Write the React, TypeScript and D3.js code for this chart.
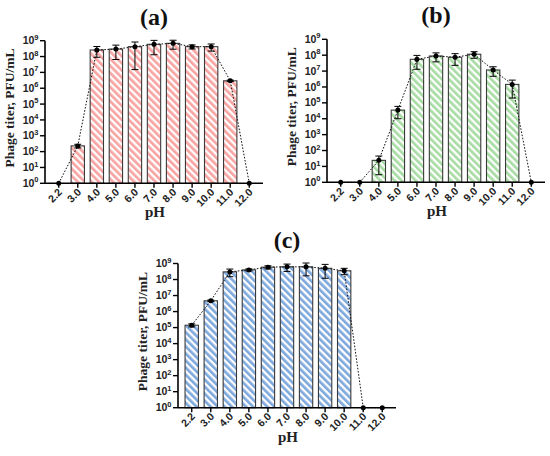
import React, { useEffect, useRef } from 'react';
import * as d3 from 'd3';

// pH values tested (x categories)
const phLabels = ['2.2', '3.0', '4.0', '5.0', '6.0', '7.0', '8.0', '9.0', '10.0', '11.0', '12.0'];

// mean phage titers (PFU/mL), 0 = not detected
const titerA = [0, 2.3e2, 2.6e8, 2.95e8, 4.2e8, 5.9e8, 6.8e8, 4.2e8, 4.2e8, 2.95e6, 0];
const sdA = [0, 60, 1.7e8, 2.3e8, 4.05e8, 4.6e8, 3.9e8, 1.2e8, 2.0e8, 3e5, 0];

const titerB = [0, 0, 24, 3.5e4, 5.5e7, 8.9e7, 7.4e7, 1.15e8, 1.17e7, 1.45e6, 0];
const sdB = [0, 0, 21, 2.5e4, 4.2e7, 5.1e7, 5.1e7, 5.1e7, 7e6, 1.25e6, 0];

const titerC = [1.4e5, 4.7e6, 3.0e8, 4.0e8, 5.9e8, 6.2e8, 6.2e8, 5.0e8, 3.5e8, 0, 0];
const sdC = [3e4, 5e5, 1.5e8, 6e7, 1.3e8, 3e8, 4.5e8, 3.8e8, 1.5e8, 0, 0];

// y tick exponents 10^0 .. 10^9
const exponents = [0, 1, 2, 3, 4, 5, 6, 7, 8, 9];

const panelTitles = ['(a)', '(b)', '(c)'];

const W = 550;
const H = 456;

const panels = [
  { title: panelTitles[0], values: titerA, sd: sdA, color: '#f7a4a2', left: 45, right: 263, bottom: 183.3, top: 40.7 },
  { title: panelTitles[1], values: titerB, sd: sdB, color: '#a8dca4', left: 327, right: 545, bottom: 182.3, top: 39.3 },
  { title: panelTitles[2], values: titerC, sd: sdC, color: '#7fa9dc', left: 178, right: 396, bottom: 407.7, top: 263.5 },
];

const serif = '"Liberation Serif", "Times New Roman", serif';
const sans = '"Liberation Sans", Arial, sans-serif';

const App: React.FC = () => {
  const ref = useRef<SVGSVGElement>(null);

  useEffect(() => {
    if (!ref.current) return;
    const svg = d3.select(ref.current);
    svg.selectAll('*').remove();

    const defs = svg.append('defs');

    panels.forEach((p, pi) => {
      const pid = `stripe${pi}`;
      const pat = defs.append('pattern')
        .attr('id', pid)
        .attr('patternUnits', 'userSpaceOnUse')
        .attr('width', 5)
        .attr('height', 5)
        .attr('patternTransform', 'rotate(-45)');
      pat.append('rect').attr('width', 5).attr('height', 5).attr('fill', '#fff');
      pat.append('rect').attr('width', 2.7).attr('height', 5).attr('fill', p.color);

      const x = d3.scalePoint<string>()
        .domain(phLabels)
        .range([p.left, p.right])
        .padding(0.72);
      const y = d3.scaleLog()
        .domain([1, 1e9])
        .range([p.bottom, p.top]);
      const bw = x.step() * 0.7;

      const g = svg.append('g');

      const data = phLabels.map((ph, i) => ({ ph, v: p.values[i], sd: p.sd[i] }));

      // bars
      g.selectAll('rect.bar')
        .data(data.filter(d => d.v > 0))
        .enter().append('rect')
        .attr('class', 'bar')
        .attr('x', d => (x(d.ph) as number) - bw / 2)
        .attr('width', bw)
        .attr('y', d => y(d.v))
        .attr('height', d => y(1) - y(d.v))
        .attr('fill', `url(#${pid})`)
        .attr('stroke', '#3a3a3a')
        .attr('stroke-width', 1.1);

      // dashed trend line
      const line = d3.line<typeof data[0]>()
        .x(d => x(d.ph) as number)
        .y(d => y(Math.max(d.v, 1)));
      g.append('path')
        .datum(data)
        .attr('d', line)
        .attr('fill', 'none')
        .attr('stroke', '#111')
        .attr('stroke-width', 1)
        .attr('stroke-dasharray', '1.6,1.6');

      // error bars
      const eb = g.selectAll('g.err')
        .data(data.filter(d => d.sd > 0))
        .enter().append('g')
        .attr('stroke', '#000')
        .attr('stroke-width', 1);
      eb.append('line')
        .attr('x1', d => x(d.ph) as number)
        .attr('x2', d => x(d.ph) as number)
        .attr('y1', d => y(d.v + d.sd))
        .attr('y2', d => y(Math.max(d.v - d.sd, 1)));
      eb.append('line')
        .attr('x1', d => (x(d.ph) as number) - 3.5)
        .attr('x2', d => (x(d.ph) as number) + 3.5)
        .attr('y1', d => y(d.v + d.sd))
        .attr('y2', d => y(d.v + d.sd));
      eb.append('line')
        .attr('x1', d => (x(d.ph) as number) - 3.5)
        .attr('x2', d => (x(d.ph) as number) + 3.5)
        .attr('y1', d => y(Math.max(d.v - d.sd, 1)))
        .attr('y2', d => y(Math.max(d.v - d.sd, 1)));

      // points
      g.selectAll('circle.pt')
        .data(data)
        .enter().append('circle')
        .attr('cx', d => x(d.ph) as number)
        .attr('cy', d => y(Math.max(d.v, 1)))
        .attr('r', 2.5)
        .attr('fill', '#000');

      // y axis
      g.append('line')
        .attr('x1', p.left).attr('x2', p.left)
        .attr('y1', y(1e9)).attr('y2', y(1))
        .attr('stroke', '#000').attr('stroke-width', 1.6);
      const yt = g.selectAll('g.ytick')
        .data(exponents)
        .enter().append('g')
        .attr('transform', e => `translate(${p.left},${y(Math.pow(10, e))})`);
      yt.append('line').attr('x1', -5).attr('x2', 0).attr('stroke', '#000').attr('stroke-width', 1.4);
      const yl = yt.append('text')
        .attr('x', -6.5)
        .attr('y', 3.6)
        .attr('text-anchor', 'end')
        .attr('font-family', sans)
        .attr('font-weight', 'bold')
        .attr('font-size', 10.5)
        .attr('fill', '#222');
      yl.append('tspan').text('10');
      yl.append('tspan').attr('dy', -4.5).attr('font-size', 7.5).text(e => String(e));

      // x axis
      g.append('line')
        .attr('x1', p.left).attr('x2', p.right)
        .attr('y1', y(1)).attr('y2', y(1))
        .attr('stroke', '#000').attr('stroke-width', 1.6);
      const xt = g.selectAll('g.xtick')
        .data(phLabels)
        .enter().append('g')
        .attr('transform', d => `translate(${x(d)},${y(1)})`);
      xt.append('line').attr('y1', 0).attr('y2', 4.5).attr('stroke', '#000').attr('stroke-width', 1.4);
      xt.append('text')
        .attr('transform', 'translate(4,9.5) rotate(-45)')
        .attr('text-anchor', 'end')
        .attr('font-family', sans)
        .attr('font-weight', 'bold')
        .attr('font-size', 10.5)
        .attr('fill', '#222')
        .text(d => d);

      // axis titles
      g.append('text')
        .attr('x', (p.left + p.right) / 2 + 1)
        .attr('y', p.bottom + 34)
        .attr('text-anchor', 'middle')
        .attr('font-family', serif)
        .attr('font-weight', 'bold')
        .attr('font-size', 15)
        .attr('fill', '#222')
        .text('pH');
      g.append('text')
        .attr('transform', `translate(${p.left - 31},${(p.top + p.bottom) / 2 - 4}) rotate(-90)`)
        .attr('text-anchor', 'middle')
        .attr('font-family', serif)
        .attr('font-weight', 'bold')
        .attr('font-size', 13.5)
        .attr('fill', '#222')
        .text('Phage titer, PFU/mL');

      // panel title
      g.append('text')
        .attr('x', (p.left + p.right) / 2 + 0)
        .attr('y', p.top - 16)
        .attr('text-anchor', 'middle')
        .attr('font-family', serif)
        .attr('font-weight', 'bold')
        .attr('font-size', 24)
        .attr('fill', '#111')
        .text(p.title);
    });
  }, []);

  return (
    <svg
      ref={ref}
      width={W}
      height={H}
      style={{ position: 'absolute', left: 0, top: 0, background: '#fff' }}
    />
  );
};

export default App;
